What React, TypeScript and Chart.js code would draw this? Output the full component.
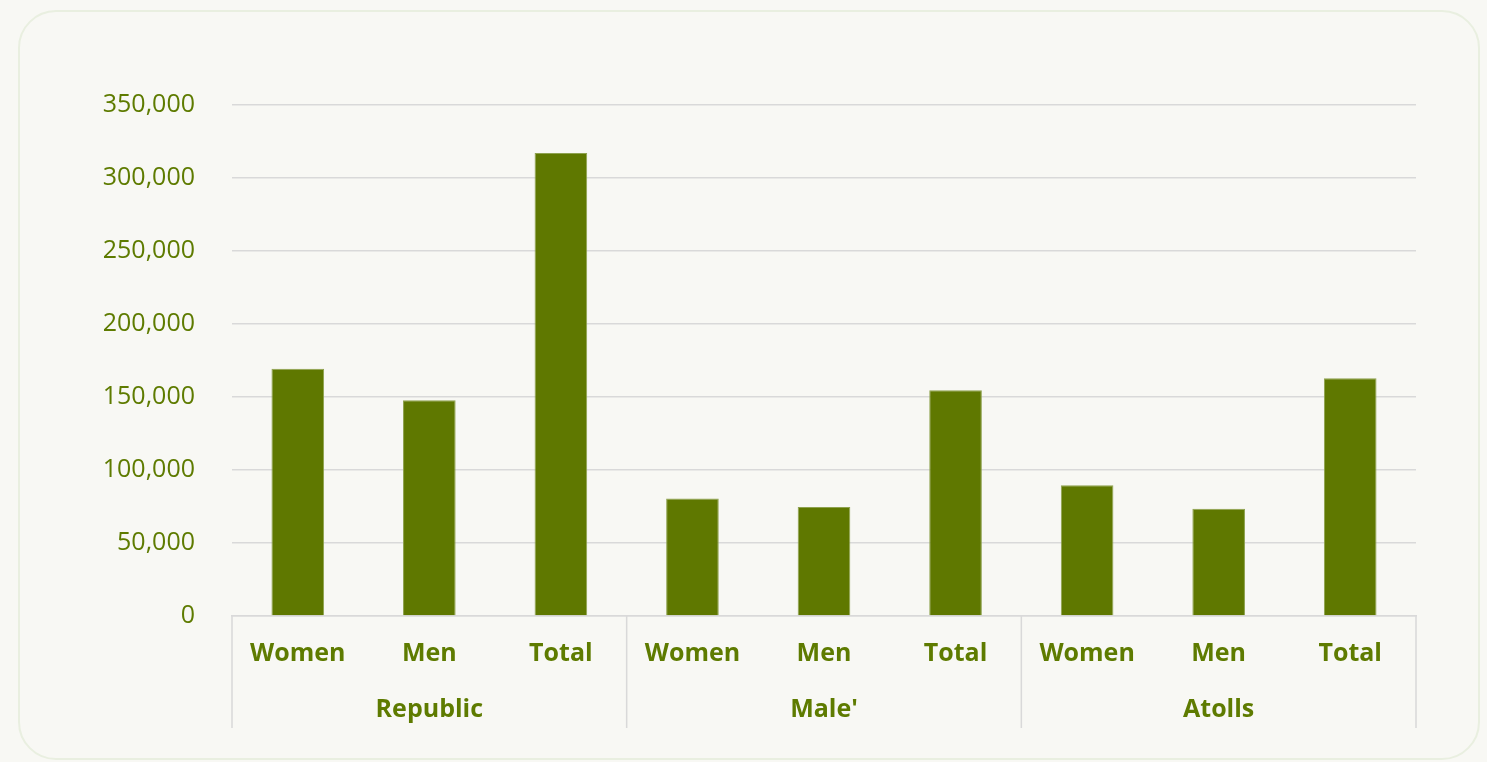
import React, { useEffect, useRef } from "react";
import { Chart, registerables } from "chart.js";

Chart.register(...registerables);

const categories = ["Women", "Men", "Total", "Women", "Men", "Total", "Women", "Men", "Total"];
const groups = ["Republic", "Male'", "Atolls"];
const population = [169400, 147700, 317100, 80400, 74700, 154600, 89500, 73500, 162800];
const yTicks = [0, 50000, 100000, 150000, 200000, 250000, 300000, 350000];

const GREEN = "#5f7800";
const TEXT = "#5e7b00";
const GRID = "#d9d9d9";
const FONT = "'Open Sans', 'Noto Sans', sans-serif";

const separatorPlugin = {
  id: "groupSeparators",
  afterDraw(chart: any) {
    const x = chart.scales.x;
    const ctx = chart.ctx;
    const top = chart.chartArea.bottom;
    const bottom = 716;
    const n = categories.length;
    const xs: number[] = [x.left];
    for (let i = 3; i < n; i += 3) {
      xs.push((x.getPixelForTick(i - 1) + x.getPixelForTick(i)) / 2);
    }
    xs.push(x.right);
    ctx.save();
    ctx.strokeStyle = GRID;
    ctx.lineWidth = 1.5;
    for (const px of xs) {
      ctx.beginPath();
      ctx.moveTo(px, top);
      ctx.lineTo(px, bottom);
      ctx.stroke();
    }
    ctx.restore();
  },
};

export default function App() {
  const ref = useRef<HTMLCanvasElement>(null);
  useEffect(() => {
    const chart = new Chart(ref.current!, {
      type: "bar",
      data: {
        labels: categories,
        datasets: [
          {
            data: population,
            backgroundColor: GREEN,
            borderColor: "#8ea24e",
            borderWidth: 1,
            categoryPercentage: 1,
            barPercentage: 0.4,
          },
        ],
      },
      options: {
        animation: false,
        responsive: false,
        maintainAspectRatio: false,
        layout: { padding: { top: 93, right: 62, bottom: 30, left: 0 } },
        plugins: { legend: { display: false }, tooltip: { enabled: false } },
        scales: {
          y: {
            min: 0,
            max: 350000,
            afterBuildTicks: (s: any) => {
              s.ticks = yTicks.map((v) => ({ value: v }));
            },
            afterFit: (s: any) => {
              s.width = 212;
            },
            grid: { color: GRID, lineWidth: 1.5, drawTicks: false },
            border: { display: false },
            ticks: {
              color: TEXT,
              padding: 37,
              font: { family: FONT, size: 25 },
              callback: (v: any) => Number(v).toLocaleString("en-US"),
            },
          },
          x: {
            grid: { display: false, drawTicks: false },
            border: { display: true, color: GRID, width: 1.5 },
            ticks: {
              color: TEXT,
              padding: 23,
              font: { family: FONT, size: 25, weight: "bold" },
              maxRotation: 0,
            },
            afterFit: (s: any) => {
              s.height = 52;
            },
          },
          x2: {
            type: "category",
            position: "bottom",
            labels: groups,
            offset: true,
            grid: { display: false, drawTicks: false },
            border: { display: false },
            ticks: {
              color: TEXT,
              padding: 27,
              font: { family: FONT, size: 25, weight: "bold" },
              maxRotation: 0,
            },
            afterFit: (s: any) => {
              s.height = 60;
            },
          },
        },
      } as any,
      plugins: [separatorPlugin],
    });
    return () => chart.destroy();
  }, []);

  return (
    <div style={{ position: "fixed", inset: 0, background: "#f8f8f4" }}>
      <div
        style={{
          position: "absolute",
          left: 18,
          top: 10,
          width: 1462,
          height: 750,
          boxSizing: "border-box",
          border: "2px solid #e9efe0",
          borderRadius: 38,
          background: "#f8f8f4",
        }}
      >
        <canvas ref={ref} width={1458} height={746} style={{ display: "block" }} />
      </div>
    </div>
  );
}
